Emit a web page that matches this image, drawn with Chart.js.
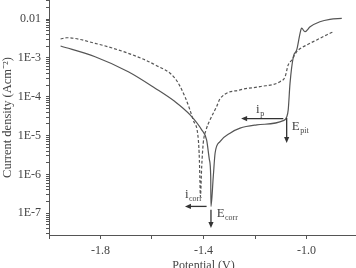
<!DOCTYPE html>
<html>
<head>
<meta charset="utf-8">
<script src="https://cdn.jsdelivr.net/npm/chart.js@4.4.0/dist/chart.umd.min.js"></script>
<style>
  html, body { margin: 0; padding: 0; overflow: hidden; background: #fff; }
</style>
</head>
<body>
<canvas id="chart" width="358" height="276"></canvas>
<script>
// solid curve
const solidPotential = [-1.955, -1.821, -1.692, -1.588, -1.511, -1.452, -1.407, -1.388, -1.377, -1.372, -1.371,
  -1.362, -1.355, -1.336, -1.297, -1.258, -1.193, -1.090, -1.077, -1.071, -1.064, -1.051, -1.038, -1.025,
  -1.019, -1.006, -0.986, -0.948, -0.909, -0.863];
const solidCurrent = [2.02e-3, 1.07e-3, 4.4e-4, 1.66e-4, 7.5e-5, 3.4e-5, 1.4e-5, 7.7e-6, 2.37e-6, 8.8e-7, 1.5e-7,
  8.8e-7, 3.5e-6, 7.0e-6, 1.15e-5, 1.55e-5, 1.88e-5, 2.43e-5, 3.0e-5, 4.6e-5, 2.2e-4, 1.07e-3, 1.6e-3, 4.3e-3,
  5.8e-3, 4.7e-3, 6.3e-3, 8.5e-3, 9.8e-3, 1.04e-2];

// dashed curve
const dashedPotential = [-1.955, -1.931, -1.821, -1.692, -1.588, -1.511, -1.472, -1.440, -1.420, -1.416, -1.414,
  -1.412, -1.407, -1.401, -1.390, -1.375, -1.349, -1.336, -1.258, -1.181, -1.103, -1.083, -1.071, -1.057,
  -1.038, -0.999, -0.960, -0.922, -0.896];
const dashedCurrent = [3.06e-3, 3.3e-3, 2.37e-3, 1.31e-3, 6.6e-4, 3.0e-4, 1.0e-4, 2.5e-5, 7.7e-6, 2.4e-6, 7.3e-7,
  2.65e-7, 1.6e-6, 6.4e-6, 1.4e-5, 2.5e-5, 5.6e-5, 8.8e-5, 1.5e-4, 1.82e-4, 2.44e-4, 3.3e-4, 6.6e-4, 8.8e-4,
  1.44e-3, 2.15e-3, 2.9e-3, 3.9e-3, 4.7e-3];

const xTickValues = [-2.0, -1.8, -1.6, -1.4, -1.2, -1.0, -0.8];
const xTickLabels = ['', '-1.8', '', '-1.4', '', '-1.0', ''];
const yDecades = [1e-8, 1e-7, 1e-6, 1e-5, 1e-4, 1e-3, 1e-2];
const yDecadeLabels = ['', '1E-7', '1E-6', '1E-5', '1E-4', '1E-3', '0.01'];

// arrows: [potential, current] start -> end (head at end)
const arrowStarts = [[-1.090, 2.73e-5], [-1.077, 2.85e-5], [-1.388, 1.5e-7], [-1.371, 1.23e-7]];
const arrowEnds = [[-1.254, 2.73e-5], [-1.077, 6.4e-6], [-1.472, 1.5e-7], [-1.371, 4.17e-8]];
// labels: main letter + subscript, anchored at [potential, current]
const noteMain = ['i', 'E', 'i', 'E'];
const noteSub = ['p', 'pit', 'corr', 'corr'];
const noteAnchors = [[-1.196, 3.84e-5], [-1.057, 1.40e-5], [-1.472, 2.5e-7], [-1.349, 8.1e-8]];

const yMin = Math.pow(10, -7.56);
const yMax = Math.pow(10, -1.51);
const serif = "'Liberation Serif', 'Times New Roman', serif";
const axisColor = '#555';
const textColor = '#444';

function toPoints(xs, ys) {
  return xs.map((x, i) => ({ x: x, y: ys[i] }));
}

function noPadding(scale) {
  scale.paddingTop = 0;
  scale.paddingBottom = 0;
  scale.paddingLeft = 0;
  scale.paddingRight = 0;
}

const notesPlugin = {
  id: 'notes',
  afterDatasetsDraw(chart) {
    const { ctx, scales } = chart;
    const sx = scales.x;
    const sy = scales.y;
    ctx.save();
    ctx.strokeStyle = '#333';
    ctx.fillStyle = '#333';
    ctx.lineWidth = 1.3;
    arrowStarts.forEach((s, i) => {
      const x0 = sx.getPixelForValue(s[0]);
      const y0 = sy.getPixelForValue(s[1]);
      const x1 = sx.getPixelForValue(arrowEnds[i][0]);
      const y1 = sy.getPixelForValue(arrowEnds[i][1]);
      const ang = Math.atan2(y1 - y0, x1 - x0);
      const hl = 6;
      const hw = 2.6;
      ctx.beginPath();
      ctx.moveTo(x0, y0);
      ctx.lineTo(x1 - Math.cos(ang) * (hl - 1), y1 - Math.sin(ang) * (hl - 1));
      ctx.stroke();
      ctx.beginPath();
      ctx.moveTo(x1, y1);
      ctx.lineTo(x1 - Math.cos(ang) * hl - Math.sin(ang) * hw, y1 - Math.sin(ang) * hl + Math.cos(ang) * hw);
      ctx.lineTo(x1 - Math.cos(ang) * hl + Math.sin(ang) * hw, y1 - Math.sin(ang) * hl - Math.cos(ang) * hw);
      ctx.closePath();
      ctx.fill();
    });
    ctx.fillStyle = textColor;
    ctx.textBaseline = 'alphabetic';
    ctx.textAlign = 'left';
    noteAnchors.forEach((a, i) => {
      const x = sx.getPixelForValue(a[0]);
      const y = sy.getPixelForValue(a[1]);
      ctx.font = '13px ' + serif;
      ctx.fillText(noteMain[i], x, y);
      const w = ctx.measureText(noteMain[i]).width;
      ctx.font = '8px ' + serif;
      ctx.fillText(noteSub[i], x + w + 0.5, y + 3);
    });
    ctx.restore();
  },
};

new Chart(document.getElementById('chart'), {
  type: 'line',
  data: {
    datasets: [
      {
        data: toPoints(solidPotential, solidCurrent),
        borderColor: '#555',
        borderWidth: 1.2,
        pointRadius: 0,
        cubicInterpolationMode: 'monotone',
      },
      {
        data: toPoints(dashedPotential, dashedCurrent),
        borderColor: '#555',
        borderWidth: 1.2,
        borderDash: [3, 2],
        pointRadius: 0,
        cubicInterpolationMode: 'monotone',
      },
    ],
  },
  options: {
    responsive: false,
    animation: false,
    devicePixelRatio: 1,
    layout: { padding: 0 },
    plugins: {
      legend: { display: false },
      tooltip: { enabled: false },
    },
    scales: {
      x: {
        type: 'linear',
        min: -2.0,
        max: -0.8,
        afterBuildTicks: (scale) => {
          scale.ticks = xTickValues.map((v) => ({ value: v }));
        },
        afterFit: (scale) => {
          scale.height = 41;
          noPadding(scale);
        },
        ticks: {
          autoSkip: false,
          maxRotation: 0,
          padding: 5,
          color: textColor,
          font: { family: serif, size: 12 },
          callback: (value) => {
            const i = xTickValues.findIndex((v) => Math.abs(v - value) < 1e-6);
            return i >= 0 ? xTickLabels[i] : '';
          },
        },
        grid: { drawOnChartArea: false, tickLength: 4, color: axisColor },
        border: { color: axisColor, width: 1 },
        title: {
          display: true,
          text: 'Potential (V)',
          color: textColor,
          font: { family: serif, size: 12 },
          padding: { top: 0, bottom: 3 },
        },
      },
      y: {
        type: 'logarithmic',
        min: yMin,
        max: yMax,
        afterBuildTicks: (scale) => {
          const ticks = [];
          yDecades.forEach((d) => {
            for (let m = 1; m <= 9; m++) {
              const v = d * m;
              if (v >= yMin && v <= yMax) ticks.push({ value: v, major: m === 1 });
            }
          });
          scale.ticks = ticks;
        },
        afterFit: (scale) => {
          scale.width = 49;
          noPadding(scale);
        },
        ticks: {
          autoSkip: false,
          padding: 5,
          color: textColor,
          font: { family: serif, size: 12 },
          callback: (value) => {
            const i = yDecades.findIndex((d) => Math.abs(d - value) / d < 1e-6);
            return i >= 0 ? yDecadeLabels[i] : '';
          },
        },
        grid: { drawOnChartArea: false, tickLength: 3, color: axisColor },
        border: { color: axisColor, width: 1 },
        title: {
          display: true,
          text: 'Current density (Acm⁻²)',
          color: textColor,
          font: { family: serif, size: 12.5 },
          padding: { top: 0, bottom: 0 },
        },
      },
    },
  },
  plugins: [notesPlugin],
});
</script>
</body>
</html>
